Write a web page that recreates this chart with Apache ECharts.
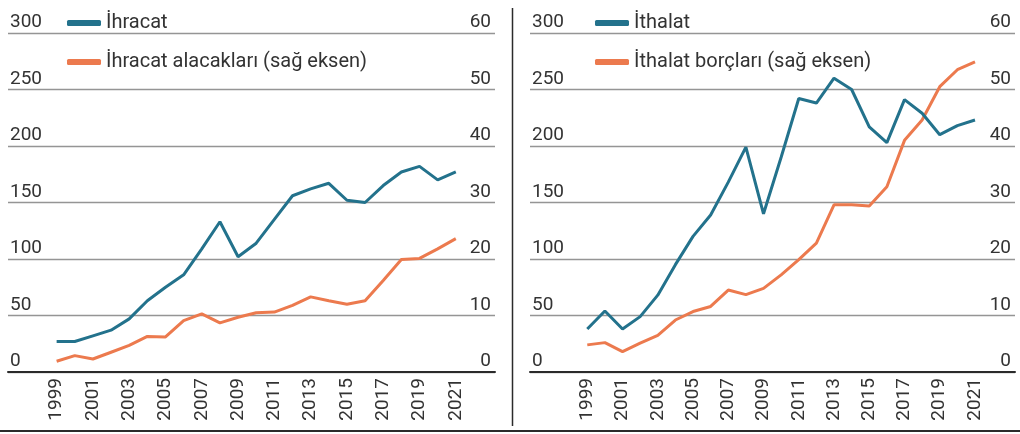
<!DOCTYPE html>
<html>
<head>
<meta charset="utf-8">
<script src="https://cdn.jsdelivr.net/npm/echarts@6/dist/echarts.min.js"></script>
<style>
html,body{margin:0;padding:0;background:#fff;}
#c{width:1020px;height:434px;}
</style>
</head>
<body>
<div id="c"></div>
<script>
const years = [1999,2000,2001,2002,2003,2004,2005,2006,2007,2008,2009,2010,2011,2012,2013,2014,2015,2016,2017,2018,2019,2020,2021];
const xTickYears = [1999,2001,2003,2005,2007,2009,2011,2013,2015,2017,2019,2021];
const ihracat = [27,27,32,37,47,63,75,86,109,133,102,114,135,156,162,167,152,150,165,177,182,170,177];
const ihracatAlacak = [1.9,2.9,2.3,3.5,4.7,6.3,6.2,9.1,10.3,8.7,9.7,10.5,10.6,11.8,13.3,12.6,12.0,12.6,16.2,19.9,20.1,21.8,23.6];
const ithalat = [38,54,38,49,68,95,120,139,168,199,140,190,242,238,260,250,217,203,241,229,210,218,223];
const ithalatBorc = [4.8,5.2,3.6,5.1,6.5,9.2,10.7,11.6,14.5,13.7,14.8,17.2,19.9,22.8,29.6,29.6,29.4,32.8,41,44.6,50.5,53.5,54.9];

const names = ['İhracat','İhracat alacakları (sağ eksen)','İthalat','İthalat borçları (sağ eksen)'];
const BLUE = '#23728c', ORANGE = '#ec7a4e', TXT = '#333333', FONT = 'Roboto';
const pairs = v => years.map((y,i)=>[y,v[i]]);

function xAxis(gi, min, max){
  return {type:'value', gridIndex:gi, min:min, max:max,
    axisLine:{show:true, onZero:false, lineStyle:{color:'#2b2b2b', width:2}},
    axisTick:{show:false}, splitLine:{show:false},
    axisLabel:{customValues:xTickYears, rotate:90, margin:6, color:TXT, fontFamily:FONT, fontSize:19,
      formatter:v=>String(v)}};
}
function yLeft(gi){
  return {type:'value', gridIndex:gi, min:0, max:300, interval:50, position:'left',
    axisLine:{show:false}, axisTick:{show:false},
    splitLine:{show:true, lineStyle:{color:'#959595', width:1.3}},
    axisLabel:{inside:true, margin:2, verticalAlign:'bottom', padding:[0,0,1,0], color:TXT, fontFamily:FONT, fontSize:19}};
}
function yRight(gi){
  return {type:'value', gridIndex:gi, min:0, max:60, interval:10, position:'right',
    axisLine:{show:false}, axisTick:{show:false}, splitLine:{show:false},
    axisLabel:{inside:true, margin:4, verticalAlign:'bottom', padding:[0,0,1,0], color:TXT, fontFamily:FONT, fontSize:19}};
}
function line(name, data, xi, yi, color){
  return {type:'line', name:name, data:pairs(data), xAxisIndex:xi, yAxisIndex:yi,
    symbol:'none', lineStyle:{color:color, width:3}, itemStyle:{color:color}, z:3};
}
function legend(left, items){
  return {left:left, top:7, orient:'vertical', data:items, icon:'roundRect',
    itemWidth:34, itemHeight:6, itemGap:17,
    textStyle:{color:TXT, fontFamily:FONT, fontSize:20, lineHeight:22}};
}

const chart = echarts.init(document.getElementById('c'), null, {renderer:'canvas'});
chart.setOption({
  animation:false,
  backgroundColor:'#fff',
  grid:[
    {left:8, right:525, top:33, bottom:62},
    {left:530, right:5, top:33, bottom:62}
  ],
  xAxis:[xAxis(0,1996.32,2023.16), xAxis(1,1995.75,2023.27)],
  yAxis:[yLeft(0), yRight(0), yLeft(1), yRight(1)],
  legend:[legend(62,[names[0],names[1]]), legend(590,[names[2],names[3]])],
  series:[
    line(names[1], ihracatAlacak, 0, 1, ORANGE),
    line(names[0], ihracat, 0, 0, BLUE),
    line(names[3], ithalatBorc, 1, 3, ORANGE),
    line(names[2], ithalat, 1, 2, BLUE)
  ],
  graphic:[
    {type:'line', shape:{x1:512.5,y1:8,x2:512.5,y2:426}, style:{stroke:'#2b2b2b', lineWidth:1.5}},
    {type:'line', shape:{x1:0,y1:431,x2:1020,y2:431}, style:{stroke:'#2b2b2b', lineWidth:2}}
  ]
});
</script>
</body>
</html>
